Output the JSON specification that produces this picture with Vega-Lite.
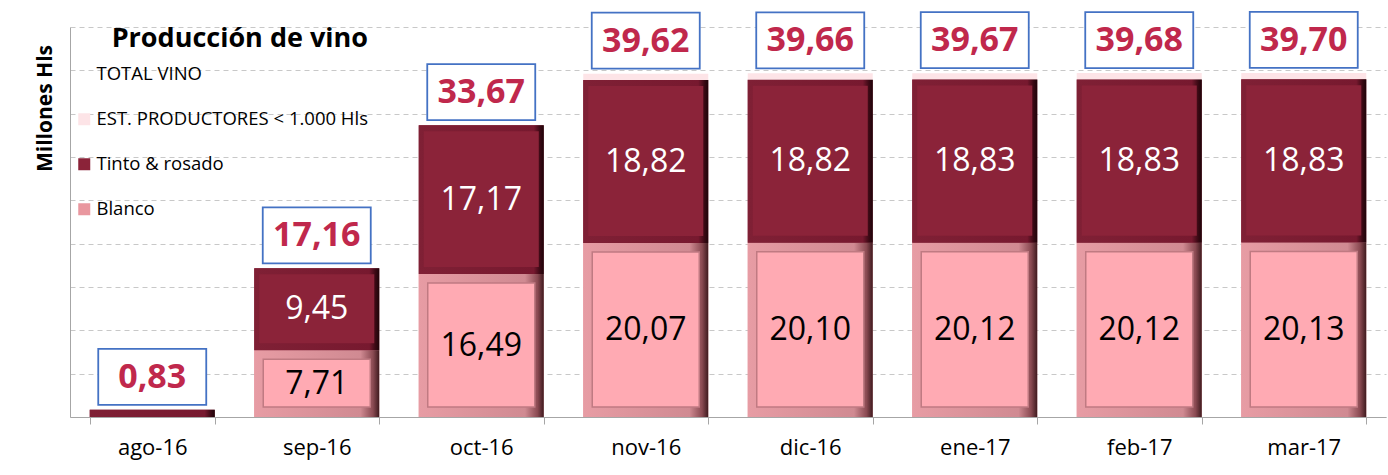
{
  "$schema": "https://vega.github.io/schema/vega-lite/v6.json",
  "width": 1316,
  "height": 390,
  "autosize": {"type": "none"},
  "padding": {"left": 70, "top": 27, "right": 2, "bottom": 58},
  "background": "white",
  "datasets": {
    "barras": [
      {"mes": "ago-16", "serie": "Blanco", "valor": 0},
      {"mes": "ago-16", "serie": "Tinto & rosado", "valor": 0.83},
      {"mes": "ago-16", "serie": "EST. PRODUCTORES < 1.000 Hls", "valor": 0},
      {"mes": "sep-16", "serie": "Blanco", "valor": 7.71},
      {"mes": "sep-16", "serie": "Tinto & rosado", "valor": 9.45},
      {"mes": "sep-16", "serie": "EST. PRODUCTORES < 1.000 Hls", "valor": 0},
      {"mes": "oct-16", "serie": "Blanco", "valor": 16.49},
      {"mes": "oct-16", "serie": "Tinto & rosado", "valor": 17.17},
      {"mes": "oct-16", "serie": "EST. PRODUCTORES < 1.000 Hls", "valor": 0.01},
      {"mes": "nov-16", "serie": "Blanco", "valor": 20.07},
      {"mes": "nov-16", "serie": "Tinto & rosado", "valor": 18.82},
      {"mes": "nov-16", "serie": "EST. PRODUCTORES < 1.000 Hls", "valor": 0.73},
      {"mes": "dic-16", "serie": "Blanco", "valor": 20.10},
      {"mes": "dic-16", "serie": "Tinto & rosado", "valor": 18.82},
      {"mes": "dic-16", "serie": "EST. PRODUCTORES < 1.000 Hls", "valor": 0.74},
      {"mes": "ene-17", "serie": "Blanco", "valor": 20.12},
      {"mes": "ene-17", "serie": "Tinto & rosado", "valor": 18.83},
      {"mes": "ene-17", "serie": "EST. PRODUCTORES < 1.000 Hls", "valor": 0.72},
      {"mes": "feb-17", "serie": "Blanco", "valor": 20.12},
      {"mes": "feb-17", "serie": "Tinto & rosado", "valor": 18.83},
      {"mes": "feb-17", "serie": "EST. PRODUCTORES < 1.000 Hls", "valor": 0.73},
      {"mes": "mar-17", "serie": "Blanco", "valor": 20.13},
      {"mes": "mar-17", "serie": "Tinto & rosado", "valor": 18.83},
      {"mes": "mar-17", "serie": "EST. PRODUCTORES < 1.000 Hls", "valor": 0.74}
    ],
    "totales": [
      {"mes": "ago-16", "total": 0.83},
      {"mes": "sep-16", "total": 17.16},
      {"mes": "oct-16", "total": 33.67},
      {"mes": "nov-16", "total": 39.62},
      {"mes": "dic-16", "total": 39.66},
      {"mes": "ene-17", "total": 39.67},
      {"mes": "feb-17", "total": 39.68},
      {"mes": "mar-17", "total": 39.70}
    ]
  },
  "layer": [
    {
      "data": {"name": "barras"},
      "transform": [
        {"calculate": "indexof(['Blanco','Tinto & rosado','EST. PRODUCTORES < 1.000 Hls'], datum.serie)", "as": "ord"},
        {"stack": "valor", "groupby": ["mes"], "sort": [{"field": "ord", "order": "ascending"}], "as": ["v0", "v1"]}
      ],
      "mark": {"type": "bar", "width": 125},
      "encoding": {
        "x": {"field": "mes", "type": "nominal", "sort": null,
          "scale": {"paddingInner": 0.24, "paddingOuter": 0.12},
          "axis": {"title": null, "labelAngle": 0, "labelFont": "Open Sans", "labelFontSize": 22, "labelColor": "black",
            "labelPadding": 13, "tickBand": "extent", "tickSize": 7, "tickColor": "#A6A6A6", "domainColor": "#A6A6A6"}},
        "y": {"field": "v1", "type": "quantitative", "scale": {"domain": [0, 45], "nice": false},
          "axis": {"title": "Millones Hls", "labels": false, "ticks": false, "values": [0, 5, 10, 15, 20, 25, 30, 35, 40, 45],
            "grid": true, "gridDash": [5, 4], "gridColor": "#C8C8C8", "domainColor": "#A6A6A6",
            "titleFont": "Open Sans", "titleFontSize": 21, "titleFontWeight": "bold", "titleColor": "black",
            "titleX": -25, "titleY": 81, "titleAlign": "center", "titleBaseline": "middle", "titleAngle": 270}},
        "y2": {"field": "v0"},
        "color": {"field": "serie", "type": "nominal",
          "scale": {"domain": ["TOTAL VINO", "EST. PRODUCTORES < 1.000 Hls", "Tinto & rosado", "Blanco"],
            "range": ["rgba(255,255,255,0)", "#FDE4E7", "#8B2339", "#E9979F"]},
          "legend": {"orient": "none", "legendX": 5, "legendY": -1, "title": "Producción de vino",
            "titleFont": "Open Sans", "titleFontSize": 27, "titleFontWeight": "bold", "titleColor": "black", "titleLimit": 600,
            "titleAnchor": "end", "titlePadding": 12, "labelFont": "Open Sans", "labelFontSize": 18.5, "labelColor": "black", "labelLimit": 600,
            "symbolType": "square", "symbolSize": 144, "symbolStrokeWidth": 0, "rowPadding": 26, "padding": 0, "labelOffset": 3}}
      }
    },
    {
      "data": {"name": "barras"},
      "transform": [
        {"calculate": "indexof(['Blanco','Tinto & rosado','EST. PRODUCTORES < 1.000 Hls'], datum.serie)", "as": "ord"},
        {"stack": "valor", "groupby": ["mes"], "sort": [{"field": "ord", "order": "ascending"}], "as": ["v0", "v1"]},
        {"filter": "datum.serie === 'Blanco' && datum.valor > 0"}
      ],
      "mark": {"type": "bar", "width": 125,
        "fill": {"gradient": "linear", "x1": 0, "y1": 0, "x2": 1, "y2": 0,
          "stops": [{"offset": 0, "color": "#E79CA4"}, {"offset": 0.85, "color": "#D08A92"}, {"offset": 0.95, "color": "#8A4A52"}, {"offset": 1, "color": "#3E1A1E"}]}},
      "encoding": {
        "x": {"field": "mes", "type": "nominal", "sort": null},
        "y": {"field": "v1", "type": "quantitative"},
        "y2": {"field": "v0"}
      }
    },
    {
      "data": {"name": "barras"},
      "transform": [
        {"calculate": "indexof(['Blanco','Tinto & rosado','EST. PRODUCTORES < 1.000 Hls'], datum.serie)", "as": "ord"},
        {"stack": "valor", "groupby": ["mes"], "sort": [{"field": "ord", "order": "ascending"}], "as": ["v0", "v1"]},
        {"filter": "datum.serie === 'Blanco' && datum.valor > 0"}
      ],
      "mark": {"type": "bar", "width": 107, "yOffset": 9, "y2Offset": -10, "fill": "#FFAAB3", "stroke": "#C07A82", "strokeWidth": 1.5},
      "encoding": {
        "x": {"field": "mes", "type": "nominal", "sort": null},
        "y": {"field": "v1", "type": "quantitative"},
        "y2": {"field": "v0"}
      }
    },
    {
      "data": {"name": "barras"},
      "transform": [
        {"calculate": "indexof(['Blanco','Tinto & rosado','EST. PRODUCTORES < 1.000 Hls'], datum.serie)", "as": "ord"},
        {"stack": "valor", "groupby": ["mes"], "sort": [{"field": "ord", "order": "ascending"}], "as": ["v0", "v1"]},
        {"filter": "datum.serie === 'Tinto & rosado'"}
      ],
      "mark": {"type": "bar", "width": 125,
        "fill": {"gradient": "linear", "x1": 0, "y1": 0, "x2": 1, "y2": 0,
          "stops": [{"offset": 0, "color": "#7F2035"}, {"offset": 0.92, "color": "#77192F"}, {"offset": 0.97, "color": "#3A0914"}, {"offset": 1, "color": "#1E0409"}]}},
      "encoding": {
        "x": {"field": "mes", "type": "nominal", "sort": null},
        "y": {"field": "v1", "type": "quantitative"},
        "y2": {"field": "v0"}
      }
    },
    {
      "data": {"name": "barras"},
      "transform": [
        {"calculate": "indexof(['Blanco','Tinto & rosado','EST. PRODUCTORES < 1.000 Hls'], datum.serie)", "as": "ord"},
        {"stack": "valor", "groupby": ["mes"], "sort": [{"field": "ord", "order": "ascending"}], "as": ["v0", "v1"]},
        {"filter": "datum.serie === 'Tinto & rosado' && datum.valor > 2"}
      ],
      "mark": {"type": "bar", "width": 115, "yOffset": 6, "y2Offset": -7, "fill": "#8B2339"},
      "encoding": {
        "x": {"field": "mes", "type": "nominal", "sort": null},
        "y": {"field": "v1", "type": "quantitative"},
        "y2": {"field": "v0"}
      }
    },
    {
      "data": {"name": "barras"},
      "transform": [
        {"calculate": "indexof(['Blanco','Tinto & rosado','EST. PRODUCTORES < 1.000 Hls'], datum.serie)", "as": "ord"},
        {"stack": "valor", "groupby": ["mes"], "sort": [{"field": "ord", "order": "ascending"}], "as": ["v0", "v1"]},
        {"filter": "datum.serie !== 'EST. PRODUCTORES < 1.000 Hls' && datum.valor > 2"},
        {"calculate": "(datum.v0 + datum.v1) / 2", "as": "vm"}
      ],
      "mark": {"type": "text", "font": "Open Sans", "fontSize": 32, "baseline": "middle", "align": "center"},
      "encoding": {
        "x": {"field": "mes", "type": "nominal", "sort": null},
        "y": {"field": "vm", "type": "quantitative"},
        "text": {"field": "valor", "type": "quantitative", "format": ".2f"},
        "color": {"condition": {"test": "datum.serie === 'Blanco'", "value": "black"}, "value": "white"}
      }
    },
    {
      "data": {"name": "totales"},
      "mark": {"type": "bar", "width": 108, "yOffset": -61, "y2Offset": -5, "fill": "white", "stroke": "#4472C4", "strokeWidth": 1.8},
      "encoding": {
        "x": {"field": "mes", "type": "nominal", "sort": null},
        "y": {"field": "total", "type": "quantitative"},
        "y2": {"field": "total"}
      }
    },
    {
      "data": {"name": "totales"},
      "mark": {"type": "text", "font": "Open Sans", "fontSize": 34, "fontWeight": "bold", "color": "#C0284C", "baseline": "middle", "align": "center", "dy": -32},
      "encoding": {
        "x": {"field": "mes", "type": "nominal", "sort": null},
        "y": {"field": "total", "type": "quantitative"},
        "text": {"field": "total", "type": "quantitative", "format": ".2f"}
      }
    }
  ],
  "config": {
    "view": {"stroke": null},
    "locale": {"number": {"decimal": ",", "thousands": ".", "grouping": [3], "currency": ["", " €"]}}
  }
}
